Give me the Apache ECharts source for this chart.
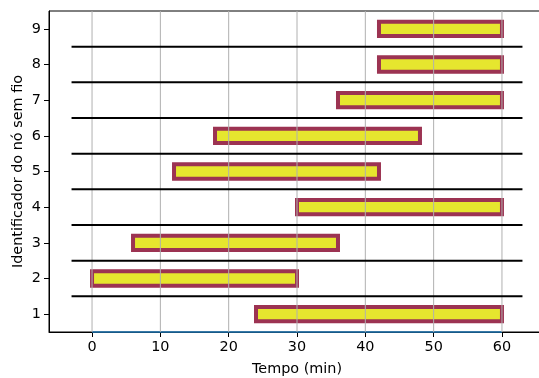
<!DOCTYPE html>
<html>
<head>
<meta charset="utf-8">
<script src="https://cdn.jsdelivr.net/npm/echarts@6/dist/echarts.min.js"></script>
<style>
html,body{margin:0;padding:0;background:#fff;}
#chart{width:539px;height:378px;}
</style>
</head>
<body>
<div id="chart"></div>
<script>
// ---- data ----
const nodes = [1, 2, 3, 4, 5, 6, 7, 8, 9];
const startTimes = [24, 0, 6, 30, 12, 18, 36, 42, 42];
const endTimes = [60, 30, 36, 60, 42, 48, 60, 60, 60];
const xTicks = [0, 10, 20, 30, 40, 50, 60];
const yTicks = [1, 2, 3, 4, 5, 6, 7, 8, 9];
const separators = [1.5, 2.5, 3.5, 4.5, 5.5, 6.5, 7.5, 8.5];
const sepRange = [-3, 63];
const baseLineX = [0, 60];
const baseLineY = 0.5;
const xRange = [-6.3, 66.3];
const yRange = [0.5, 9.5];
const barHeight = 0.4;

const barData = nodes.map((n, i) => [n, startTimes[i], endTimes[i]]);

const chart = echarts.init(document.getElementById('chart'), null, {renderer: 'canvas'});
const font = 'DejaVu Sans';
const fs = 14.4;

const option = {
  animation: false,
  backgroundColor: '#ffffff',
  grid: {left: 49, width: 496, top: 11, height: 321, containLabel: false, outerBoundsMode: 'none',
    show: true, borderColor: '#000', borderWidth: 1, backgroundColor: 'transparent'},
  xAxis: {
    type: 'value', min: xRange[0], max: xRange[1],
    name: 'Tempo (min)', nameLocation: 'middle', nameGap: 30, nameMoveOverlap: false,
    nameTextStyle: {fontFamily: font, fontSize: fs, color: '#000'},
    axisLine: {show: true, onZero: false, lineStyle: {color: '#000', width: 1}},
    axisTick: {show: true, length: 5, customValues: xTicks, lineStyle: {color: '#000'}},
    axisLabel: {customValues: xTicks, fontFamily: font, fontSize: fs, color: '#000', margin: 8},
    splitLine: {show: false}
  },
  yAxis: {
    type: 'value', min: yRange[0], max: yRange[1],
    name: 'Identificador do nó sem fio', nameLocation: 'middle', nameGap: 24, nameMoveOverlap: false,
    nameTextStyle: {fontFamily: font, fontSize: fs, color: '#000'},
    axisLine: {show: true, onZero: false, lineStyle: {color: '#000', width: 1}},
    axisTick: {show: true, length: 5, customValues: yTicks, lineStyle: {color: '#000'}},
    axisLabel: {customValues: yTicks, fontFamily: font, fontSize: fs, color: '#000', margin: 8},
    splitLine: {show: false}
  },
  series: [
    {
      type: 'custom', z: 2,
      data: barData,
      encode: {x: [1, 2], y: 0},
      renderItem: function (params, api) {
        const y = api.value(0);
        const p1 = api.coord([api.value(1), y]);
        const p2 = api.coord([api.value(2), y]);
        const h = api.size([0, barHeight])[1];
        return {
          type: 'rect',
          shape: {x: p1[0], y: p1[1] - h / 2, width: p2[0] - p1[0], height: h},
          style: {fill: '#e6e62e', stroke: '#9c3352', lineWidth: 4}
        };
      }
    },
    {
      type: 'custom', z: 3, silent: true,
      data: xTicks.map(v => [v]),
      encode: {x: 0},
      renderItem: function (params, api) {
        const a = api.coord([api.value(0), yRange[0]]);
        const b = api.coord([api.value(0), yRange[1]]);
        return {type: 'line', shape: {x1: a[0], y1: a[1], x2: b[0], y2: b[1]},
          style: {stroke: '#b0b0b0', lineWidth: 1}};
      }
    },
    {
      type: 'custom', z: 4, silent: true,
      data: separators.map(v => [v]),
      encode: {y: 0},
      renderItem: function (params, api) {
        const a = api.coord([sepRange[0], api.value(0)]);
        const b = api.coord([sepRange[1], api.value(0)]);
        return {type: 'line', shape: {x1: a[0], y1: a[1], x2: b[0], y2: b[1]},
          style: {stroke: '#000', lineWidth: 2}};
      }
    },
    {
      type: 'line', z: 1, silent: true, symbol: 'none',
      data: baseLineX.map(x => [x, baseLineY]),
      lineStyle: {color: '#1f77b4', width: 1.5},
      clip: false
    }
  ]
};
chart.setOption(option);
</script>
</body>
</html>
